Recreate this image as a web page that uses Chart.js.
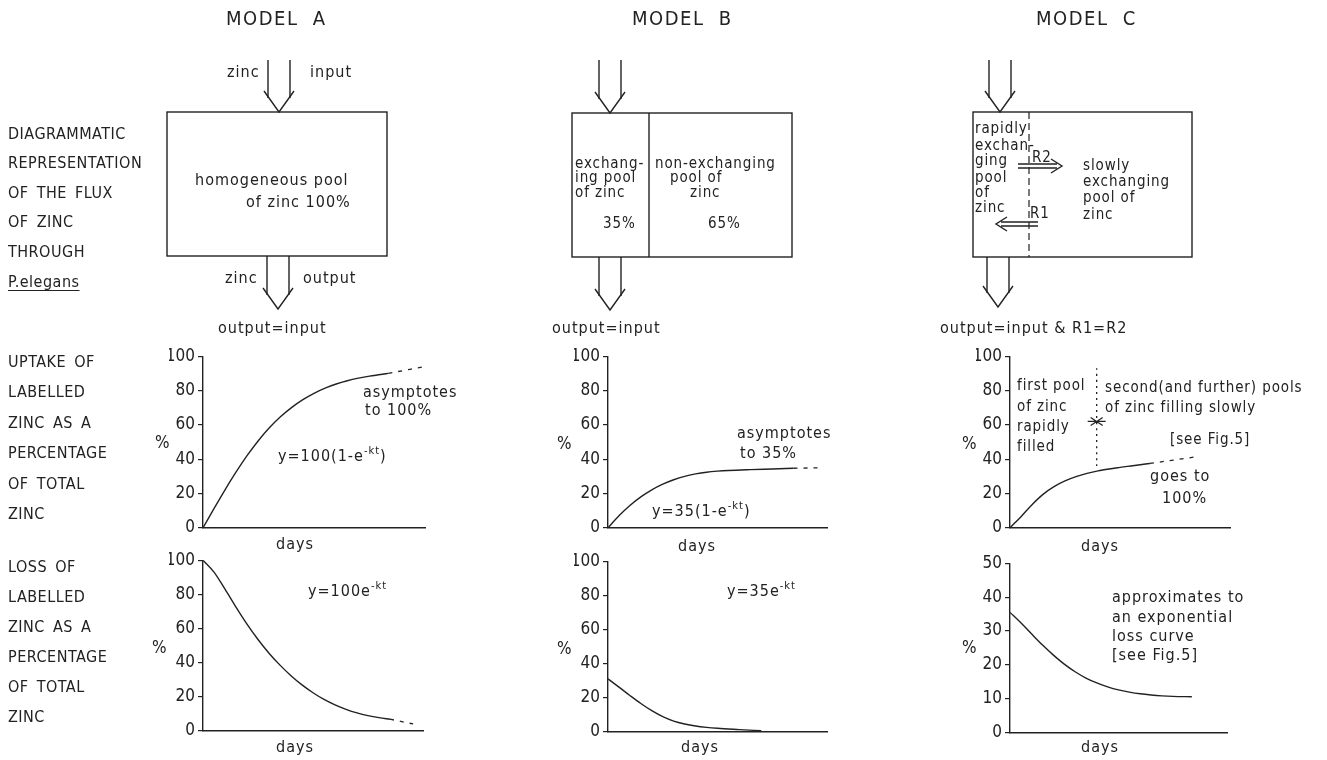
<!DOCTYPE html>
<html><head><meta charset="utf-8">
<script src="https://cdn.jsdelivr.net/npm/chart.js@4.4.1/dist/chart.umd.min.js"></script>
<style>
html,body{margin:0;padding:0;background:#fff;}
#page{position:relative;width:1327px;height:760px;overflow:hidden;background:#fff;}
.t{position:absolute;white-space:pre;font-family:'Liberation Sans Narrow','DejaVu Sans Condensed','Liberation Sans',sans-serif;color:#222;line-height:1;font-size:16px;letter-spacing:1px;transform:translateY(-50%);}
.cap{font-size:16px;letter-spacing:0.5px;word-spacing:3px;}
.title{font-size:20px;letter-spacing:1.5px;}
.box{font-size:15px;letter-spacing:0.9px;}
.pct{font-size:17px;letter-spacing:0;}
.ctr{transform:translate(-50%,-50%);}
.ul{text-decoration:underline;text-underline-offset:3px;}
sup{font-size:11px;vertical-align:0;position:relative;top:-7px;letter-spacing:1px;}
canvas{position:absolute;}
svg{position:absolute;left:0;top:0;}
</style></head>
<body><div id="page"><svg id="diag" width="1327" height="760"></svg></div>
<script>
// ---- curve readings (x = days, arbitrary units 0-10; y = % of total zinc) ----
const uptakeA_days = [0, 0.5, 1, 1.5, 2, 2.5, 3, 3.5, 4, 4.5, 5, 5.5, 6, 6.5, 7, 7.5, 8, 8.35];
const uptakeA_pct  = [0, 11.3, 22.3, 32.7, 42.3, 50.9, 58.4, 64.8, 70.2, 74.7, 78.4, 81.4, 83.8, 85.7, 87.2, 88.4, 89.3, 90.0];
const uptakeA_tailDays = [8.35, 10];
const uptakeA_tailPct  = [90.0, 94];

const uptakeB_days = [0, 0.5, 1, 1.5, 2, 2.5, 3, 3.5, 4, 4.5, 5, 5.5, 6.5, 7.5, 8.47];
const uptakeB_pct  = [0, 7, 13, 18, 22.1, 25.4, 28, 30, 31.4, 32.4, 33, 33.4, 33.9, 34.3, 34.7];
const uptakeB_tailDays = [8.47, 9.7];
const uptakeB_tailPct  = [34.7, 35];

const uptakeC_days = [0, 0.5, 1, 1.5, 2, 2.5, 3, 3.5, 4, 4.5, 5, 5.5, 6, 6.36];
const uptakeC_pct  = [0, 6.5, 13.5, 19.5, 24, 27.3, 29.8, 31.7, 33.2, 34.3, 35.2, 36.05, 36.9, 37.5];
const uptakeC_tailDays = [6.36, 8.48];
const uptakeC_tailPct  = [37.5, 41.4];
const poolSplitDays = [3.94, 3.94];
const poolSplitPct  = [36, 93];
const poolMarkPct = 62;

const lossA_days = [0, 0.5, 1, 1.5, 2, 2.5, 3, 3.5, 4, 4.5, 5, 5.5, 6, 6.5, 7, 7.5, 8, 8.5];
const lossA_pct  = [100, 93, 83, 72.5, 62.5, 53.5, 45.5, 38.5, 32.3, 26.9, 22.3, 18.4, 15.2, 12.6, 10.5, 8.9, 7.7, 6.8];
const lossA_tailDays = [8.5, 9.55];
const lossA_tailPct  = [6.8, 4];

const lossB_days = [0, 0.5, 1, 1.5, 2, 2.5, 3, 3.5, 4, 4.5, 5, 6, 7];
const lossB_pct  = [31, 26.2, 21.3, 16.6, 12.4, 8.9, 6.3, 4.6, 3.4, 2.6, 2.05, 1.3, 0.6];

const lossC_days = [0, 0.5, 1, 1.5, 2, 2.5, 3, 3.5, 4, 4.5, 5, 5.5, 6, 6.5, 7, 7.5, 8.38];
const lossC_pct  = [35.5, 32.45, 29.1, 25.85, 22.9, 20.25, 18.0, 16.15, 14.7, 13.55, 12.65, 12.0, 11.5, 11.15, 10.9, 10.75, 10.65];

const uptakeScale = {max: 100, step: 20};
const lossScaleAB = {max: 100, step: 20};
const lossScaleC  = {max: 50,  step: 10};

// ---- drawing helpers ----
const INK = '#222';
const FONT = "'Liberation Sans Narrow','DejaVu Sans Condensed','Liberation Sans',sans-serif";
const page = document.getElementById('page');
const svg = document.getElementById('diag');
const NS = 'http://www.w3.org/2000/svg';

function el(name, attrs){
  const e = document.createElementNS(NS, name);
  for (const k in attrs) e.setAttribute(k, attrs[k]);
  e.setAttribute('stroke', attrs.stroke || INK);
  e.setAttribute('stroke-width', attrs['stroke-width'] || 1.4);
  e.setAttribute('fill', 'none');
  svg.appendChild(e);
  return e;
}
function line(x1,y1,x2,y2,extra){ return el('line', Object.assign({x1,y1,x2,y2}, extra||{})); }
function poly(pts){ return el('polyline', {points: pts.map(p=>p.join(',')).join(' ')}); }
function rect(x1,y1,x2,y2){ return el('rect', {x:x1,y:y1,width:x2-x1,height:y2-y1}); }
// open double-shafted flow arrow pointing down, tip at (cx, tip)
function flow(cx, y0, tip){
  line(cx-11, y0, cx-11, tip-14);
  line(cx+11, y0, cx+11, tip-14);
  poly([[cx-15, tip-21],[cx, tip],[cx+15, tip-21]]);
}
function label(x, y, html, cls){
  const d = document.createElement('div');
  d.className = 't' + (cls ? ' ' + cls : '');
  d.style.left = x + 'px'; d.style.top = y + 'px';
  d.innerHTML = html;
  page.appendChild(d);
}

// ---- compartment diagrams ----
// Model A
rect(167,112,387,256);
flow(279, 60, 112);
flow(278, 256, 309);
// Model B
rect(572,113,792,257);
line(649,113,649,257);
flow(610, 60, 113);
flow(610, 257, 310);
// Model C
rect(973,112,1192,257);
line(1029,112,1029,257,{'stroke-dasharray':'7 4','stroke-width':1.2});
flow(1000, 60, 112);
flow(998, 257, 307);
// R2 (to slow pool) and R1 (back) exchange arrows
line(1018,164,1057,164); line(1018,168,1057,168);
poly([[1051,159],[1062,166],[1051,173]]);
line(1038,222,1001,222); line(1038,226,1001,226);
poly([[1007,217],[996,224],[1007,231]]);

// ---- charts ----
const YW = 34, PT = 10, PR = 4, PB = 10;
function series(days, pct){ return days.map((d,i)=>({x:d, y:pct[i]})); }
function curve(days, pct){
  return {data: series(days,pct), borderColor: INK, borderWidth: 1.4, pointRadius: 0,
          fill: false, cubicInterpolationMode: 'monotone'};
}
function dashed(days, pct, dash){
  return Object.assign(curve(days,pct), {borderDash: dash || [4,6], borderWidth: 1.3});
}
function plot(box, yScale, sets, extra){
  const c = document.createElement('canvas');
  const w = box.r - box.l + YW + PR, h = box.b - box.t + PT + PB;
  c.width = w; c.height = h;
  c.style.left = (box.l - YW) + 'px'; c.style.top = (box.t - PT) + 'px';
  c.style.width = w + 'px'; c.style.height = h + 'px';
  page.insertBefore(c, svg);
  return new Chart(c, {
    type: 'line',
    data: {datasets: sets},
    options: {
      responsive: false, animation: false, devicePixelRatio: 1,
      layout: {padding: {left: 0, top: PT, right: PR, bottom: PB}},
      plugins: {legend: {display: false}, tooltip: {enabled: false}, title: {display: false}},
      elements: {point: {radius: 0}},
      scales: {
        x: {type: 'linear', min: 0, max: 10,
            ticks: {display: false}, grid: {display: false},
            border: {display: true, color: INK, width: 1.4},
            afterFit: s => { s.height = 0; }},
        y: {type: 'linear', min: 0, max: yScale.max,
            ticks: {stepSize: yScale.step, color: INK, padding: 3, font: {family: FONT, size: 17}},
            grid: {drawOnChartArea: false, drawTicks: true, tickLength: 5, color: INK, lineWidth: 1.2},
            border: {display: true, color: INK, width: 1.4},
            afterFit: s => { s.width = YW; }}
      }
    },
    plugins: extra || []
  });
}

// arrows closing on the pool boundary line in the Model C uptake panel
const poolMark = {
  id: 'poolMark',
  afterDatasetsDraw(chart){
    const {ctx, scales} = chart;
    const x = scales.x.getPixelForValue(poolSplitDays[0]);
    const y = scales.y.getPixelForValue(poolMarkPct);
    ctx.save();
    ctx.strokeStyle = INK; ctx.lineWidth = 1.2;
    ctx.beginPath();
    ctx.moveTo(x-9, y); ctx.lineTo(x+9, y);
    ctx.moveTo(x-6, y-4); ctx.lineTo(x, y); ctx.lineTo(x-6, y+4);
    ctx.moveTo(x+6, y-4); ctx.lineTo(x, y); ctx.lineTo(x+6, y+4);
    ctx.stroke();
    ctx.restore();
  }
};

plot({l:203,t:353,b:531,r:425}, uptakeScale,
     [curve(uptakeA_days, uptakeA_pct), dashed(uptakeA_tailDays, uptakeA_tailPct)]);
plot({l:608,t:353,b:531,r:827}, uptakeScale,
     [curve(uptakeB_days, uptakeB_pct), dashed(uptakeB_tailDays, uptakeB_tailPct)]);
plot({l:1010,t:353,b:531,r:1230}, uptakeScale,
     [curve(uptakeC_days, uptakeC_pct), dashed(uptakeC_tailDays, uptakeC_tailPct),
      dashed(poolSplitDays, poolSplitPct, [2,4])], [poolMark]);
plot({l:203,t:557,b:734,r:423}, lossScaleAB,
     [curve(lossA_days, lossA_pct), dashed(lossA_tailDays, lossA_tailPct)]);
plot({l:608,t:558,b:735,r:827}, lossScaleAB,
     [curve(lossB_days, lossB_pct)]);
plot({l:1010,t:560,b:736,r:1227}, lossScaleC,
     [curve(lossC_days, lossC_pct)]);

// ---- text ----
const texts = [
  // column headings
  [226,18,'MODEL  A','title'], [632,18,'MODEL  B','title'], [1036,18,'MODEL  C','title'],
  // row headings
  [8,134,'DIAGRAMMATIC','cap'], [8,163,'REPRESENTATION','cap'], [8,193,'OF THE FLUX','cap'],
  [8,222,'OF ZINC','cap'], [8,252,'THROUGH','cap'], [8,282,'P.elegans','cap ul'],
  [8,362,'UPTAKE OF','cap'], [8,392,'LABELLED','cap'], [8,423,'ZINC AS A','cap'],
  [8,453,'PERCENTAGE','cap'], [8,484,'OF TOTAL','cap'], [8,514,'ZINC','cap'],
  [8,567,'LOSS OF','cap'], [8,597,'LABELLED','cap'], [8,627,'ZINC AS A','cap'],
  [8,657,'PERCENTAGE','cap'], [8,687,'OF TOTAL','cap'], [8,717,'ZINC','cap'],
  // Model A diagram
  [227,72,'zinc'], [310,72,'input'], [195,180,'homogeneous pool'], [246,202,'of zinc 100%'],
  [225,278,'zinc'], [303,278,'output'], [218,328,'output=input'],
  // Model B diagram
  [575,163,'exchang-','box'], [575,177,'ing pool','box'], [575,192,'of zinc','box'], [603,223,'35%','box'],
  [655,163,'non-exchanging','box'], [670,177,'pool of','box'], [690,192,'zinc','box'], [708,223,'65%','box'],
  [552,328,'output=input'],
  // Model C diagram
  [975,128,'rapidly','box'], [975,145,'exchan-','box'], [975,160,'ging','box'], [975,177,'pool','box'],
  [975,192,'of','box'], [975,207,'zinc','box'], [1032,157,'R2','box'], [1030,213,'R1','box'],
  [1083,165,'slowly','box'], [1083,181,'exchanging','box'], [1083,197,'pool of','box'], [1083,214,'zinc','box'],
  [940,328,'output=input &amp; R1=R2'],
  // axis captions
  [155,442,'%','pct'], [557,443,'%','pct'], [962,443,'%','pct'],
  [152,647,'%','pct'], [557,648,'%','pct'], [962,647,'%','pct'],
  [295,544,'days','ctr'], [697,546,'days','ctr'], [1100,546,'days','ctr'],
  [295,747,'days','ctr'], [700,747,'days','ctr'], [1100,747,'days','ctr'],
  // panel notes
  [363,392,'asymptotes'], [365,410,'to 100%'], [278,456,'y=100(1-e<sup>-kt</sup>)'],
  [737,433,'asymptotes'], [740,453,'to 35%'], [652,511,'y=35(1-e<sup>-kt</sup>)'],
  [1017,385,'first pool','box'], [1017,406,'of zinc','box'], [1017,426,'rapidly','box'], [1017,446,'filled','box'],
  [1105,387,'second(and further) pools','box'], [1105,407,'of zinc filling slowly','box'],
  [1170,439,'[see Fig.5]','box'], [1150,476,'goes to'], [1162,498,'100%'],
  [308,591,'y=100e<sup>-kt</sup>'], [727,591,'y=35e<sup>-kt</sup>'],
  [1112,597,'approximates to'], [1112,617,'an exponential'], [1112,636,'loss curve'], [1112,655,'[see Fig.5]']
];
texts.forEach(t => label(t[0], t[1], t[2], t[3]));
</script>
</body></html>
